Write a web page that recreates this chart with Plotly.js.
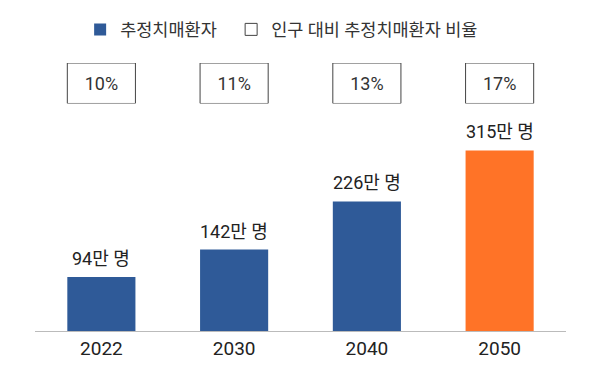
<!DOCTYPE html>
<html>
<head>
<meta charset="utf-8">
<script src="https://cdn.plot.ly/plotly-3.0.1.min.js"></script>
<style>
  html, body { margin: 0; padding: 0; background: #ffffff; }
  #chart { width: 600px; height: 369px; }
</style>
</head>
<body>
<div id="chart"></div>
<script>
// ---- data ----
const years = ['2022', '2030', '2040', '2050'];
const patients = [94, 142, 226, 315];        // 추정치매환자 (만 명)
const ratioPct = [10, 11, 13, 17];           // 인구 대비 추정치매환자 비율 (%)
const seriesNames = ['추정치매환자', '인구 대비 추정치매환자 비율'];

// ---- styles ----
const FONT = 'Roboto, "Noto Sans CJK KR", "Noto Sans", sans-serif';
const BLUE = '#2f5a98';
const ORANGE = '#ff7327';
const barColors = patients.map((v, i) => i === patients.length - 1 ? ORANGE : BLUE);
const patientLabels = patients.map(v => v + '만 명');
const ratioLabels = ratioPct.map(v => v + '%');

const traces = [
  {
    type: 'bar',
    name: seriesNames[0],
    x: years,
    y: patients,
    xaxis: 'x',
    yaxis: 'y',
    marker: { color: barColors, line: { width: 0 } },
    legendwidth: 106,
    hoverinfo: 'skip'
  },
  {
    type: 'bar',
    name: seriesNames[1],
    x: years,
    y: years.map(() => 1),
    base: 0,
    xaxis: 'x',
    yaxis: 'y2',
    marker: { color: '#ffffff', line: { color: '#444444', width: 1 } },
    text: ratioLabels,
    textposition: 'inside',
    insidetextanchor: 'middle',
    insidetextfont: { family: FONT, size: 18, color: '#333333' },
    cliponaxis: false,
    hoverinfo: 'skip'
  }
];

// value labels above the bars, positioned through the data axes
// (category axis: x given as the category index)
const annotations = years.map((yr, i) => ({
  xref: 'x',
  yref: 'y',
  x: i,
  y: patients[i],
  text: patientLabels[i],
  showarrow: false,
  xanchor: 'center',
  yanchor: 'bottom',
  yshift: 6,
  font: { family: FONT, size: 18, color: '#222222' }
}));

const layout = {
  width: 600,
  height: 369,
  margin: { l: 35, r: 34, t: 59, b: 38 },
  paper_bgcolor: '#ffffff',
  plot_bgcolor: '#ffffff',
  font: { family: FONT, color: '#222222' },
  barmode: 'overlay',
  bargap: 0.487,
  showlegend: true,
  annotations: annotations,
  legend: {
    orientation: 'h',
    x: 0.085,
    xanchor: 'left',
    y: 1.125,
    yanchor: 'middle',
    font: { family: FONT, size: 17.5, color: '#333333' },
    traceorder: 'normal',
    bgcolor: 'rgba(0,0,0,0)'
  },
  xaxis: {
    type: 'category',
    categoryorder: 'array',
    categoryarray: years,
    range: [-0.5, years.length - 0.5],
    showgrid: false,
    zeroline: false,
    showline: true,
    linecolor: '#bbbbbb',
    linewidth: 1,
    ticks: '',
    tickfont: { family: FONT, size: 19, color: '#222222' },
    fixedrange: true
  },
  yaxis: {
    domain: [0, 0.8],
    range: [0, 374],
    visible: false,
    showgrid: false,
    zeroline: false,
    fixedrange: true
  },
  yaxis2: {
    domain: [0.849, 1],
    range: [0, 1],
    anchor: 'x',
    visible: false,
    showgrid: false,
    zeroline: false,
    fixedrange: true
  }
};

Plotly.newPlot('chart', traces, layout, { displayModeBar: false, staticPlot: true });
</script>
</body>
</html>
